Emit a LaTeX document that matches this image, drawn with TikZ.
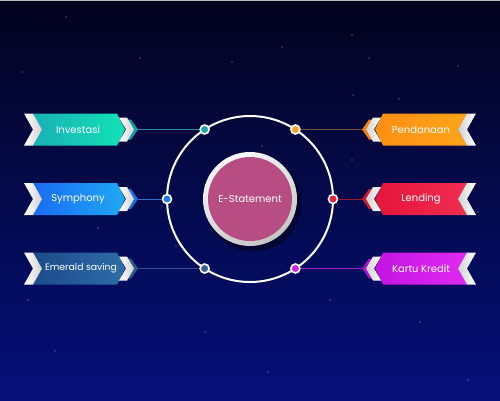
\documentclass[tikz,border=0pt]{standalone}
\usepackage{fontspec}
\setmainfont{Poppins}
\definecolor{bgtop}{HTML}{03031E}
\definecolor{bgmid}{HTML}{040734}
\definecolor{bgbot}{HTML}{05107A}
\definecolor{star}{HTML}{3A6AA8}
\definecolor{pinkc}{HTML}{B84D83}
% banner colours
\definecolor{invA}{HTML}{19B1B6}\definecolor{invB}{HTML}{12E2B6}\definecolor{invC}{HTML}{0E9CA6}\definecolor{invL}{HTML}{2A8A9E}
\definecolor{symA}{HTML}{1A6CF4}\definecolor{symB}{HTML}{1FA8F4}\definecolor{symC}{HTML}{1A70E0}\definecolor{symL}{HTML}{2A6EC8}
\definecolor{emeA}{HTML}{1C4C8A}\definecolor{emeB}{HTML}{2E6CA8}\definecolor{emeC}{HTML}{2A5A90}\definecolor{emeL}{HTML}{2E4E84}
\definecolor{penA}{HTML}{FF8E14}\definecolor{penB}{HTML}{FFA418}\definecolor{penC}{HTML}{F07E10}\definecolor{penL}{HTML}{7E4A38}
\definecolor{lenA}{HTML}{E4163A}\definecolor{lenB}{HTML}{F02C50}\definecolor{lenC}{HTML}{D01A30}\definecolor{lenL}{HTML}{A21A30}
\definecolor{karA}{HTML}{C414E2}\definecolor{karB}{HTML}{E02AF2}\definecolor{karC}{HTML}{A812C4}\definecolor{karL}{HTML}{A420C8}
\definecolor{dInv}{HTML}{1AA8AC}\definecolor{dSym}{HTML}{1E78F0}\definecolor{dEme}{HTML}{3A5F8F}
\definecolor{dPen}{HTML}{F5A623}\definecolor{dLen}{HTML}{E8203A}\definecolor{dKar}{HTML}{D020E0}
% #1 base x, #2 dir, #3 y, #4 body left col, #5 body right col, #6 small chevron col, #7 white-chevron left col, #8 white-chevron right col
\newcommand\banner[8]{%
  \fill[#6] ({#1+#2*123},{#3-10}) -- ({#1+#2*131},{#3-10}) -- ({#1+#2*138},#3) -- ({#1+#2*131},{#3+10}) -- ({#1+#2*123},{#3+10}) -- ({#1+#2*130},#3) -- cycle;
  \path[left color=#4, right color=#5] ({#1+#2*33},{#3-16}) -- ({#1+#2*117},{#3-16}) -- ({#1+#2*125},#3) -- ({#1+#2*117},{#3+16}) -- ({#1+#2*33},{#3+16}) -- ({#1+#2*42},#3) -- cycle;
  \path[left color=#7, right color=#8] ({#1+#2*24},{#3-16}) -- ({#1+#2*33},{#3-16}) -- ({#1+#2*42},#3) -- ({#1+#2*33},{#3+16}) -- ({#1+#2*24},{#3+16}) -- ({#1+#2*33},#3) -- cycle;
  \path[left color=#7, right color=#8] ({#1+#2*119},{#3-12}) -- ({#1+#2*127},{#3-12}) -- ({#1+#2*134},#3) -- ({#1+#2*127},{#3+12}) -- ({#1+#2*119},{#3+12}) -- ({#1+#2*126},#3) -- cycle;
}
\tikzset{
  lbl/.style={text=white, font=\fontsize{10}{12}\selectfont, inner sep=0pt},
  dot/.style={circle, draw=white, line width=1.6pt, minimum size=9pt, inner sep=0pt},
  conn/.style={line width=1pt},
}
\begin{document}
\begin{tikzpicture}[x=1pt,y=-1pt]
\shade[top color=bgtop, middle color=bgmid, bottom color=bgbot] (0,0) rectangle (500,400);
\useasboundingbox (0,0) rectangle (500,400);
\fill[gray!55] (0,0) rectangle (500,1.2);
% stars
\foreach \p in {(352,35),(282,47),(369,58),(458,66),(353,95),(399,99),(55,351),(66,17),(140,58),(22,72),(232,62),(440,140),(478,212),(176,246),(330,300),(420,322),(468,380),(98,228),(28,300),(268,372),(205,332),(352,160),(262,146)}
  \fill[star, opacity=0.8] \p circle[radius=0.8pt];
% big ring
\draw[white, line width=2pt] (250,199) circle[radius=83pt];
% centre
\fill[black, opacity=0.4] (253,203) circle[radius=48.5pt];
\shade[top color=gray!6, bottom color=gray!45, shading angle=30] (250,199) circle[radius=47pt];
\node[circle, fill=pinkc, minimum size=84pt, inner sep=0pt, lbl] (es) at (250,199) {E-Statement};
% dots
\node[dot, fill=dInv] (d1) at (204.6,129.5) {};
\node[dot, fill=dSym] (d2) at (167,199) {};
\node[dot, fill=dEme] (d3) at (204.6,268.5) {};
\node[dot, fill=dPen] (d4) at (295.4,129.5) {};
\node[dot, fill=dLen] (d5) at (333,199) {};
\node[dot, fill=dKar] (d6) at (295.4,268.5) {};
% left banners
\banner{0}{1}{129.5}{invA}{invB}{invC}{white}{gray!35}
\banner{0}{1}{199}{symA}{symB}{symC}{white}{gray!35}
\banner{0}{1}{268.5}{emeA}{emeB}{emeC}{white}{gray!35}
% right banners
\banner{500}{-1}{129.5}{penA}{penB}{penC}{gray!35}{white}
\banner{500}{-1}{199}{lenA}{lenB}{lenC}{gray!35}{white}
\banner{500}{-1}{268.5}{karA}{karB}{karC}{gray!35}{white}
% labels
\node[lbl] (inv) at (78,129.5) {Investasi};
\node[lbl] (sym) at (78,199) {Symphony};
\node[lbl, font=\fontsize{9.3}{11}\selectfont] (eme) at (81,268.5) {Emerald saving};
\node[lbl] (pen) at (421,129.5) {Pendanaan};
\node[lbl] (len) at (421,199) {Lending};
\node[lbl] (kar) at (421,268.5) {Kartu Kredit};
% connector ends
\coordinate (t1) at (138,129.5);
\coordinate (t2) at (138,199);
\coordinate (t3) at (138,268.5);
\coordinate (t4) at (362,129.5);
\coordinate (t5) at (362,199);
\coordinate (t6) at (362,268.5);
\draw[conn, invL] (t1) -- (d1);
\draw[conn, symL] (t2) -- (d2);
\draw[conn, emeL] (t3) -- (d3);
\draw[conn, penL] (t4) -- (d4);
\draw[conn, lenL] (t5) -- (d5);
\draw[conn, karL] (t6) -- (d6);
\end{tikzpicture}
\end{document}
